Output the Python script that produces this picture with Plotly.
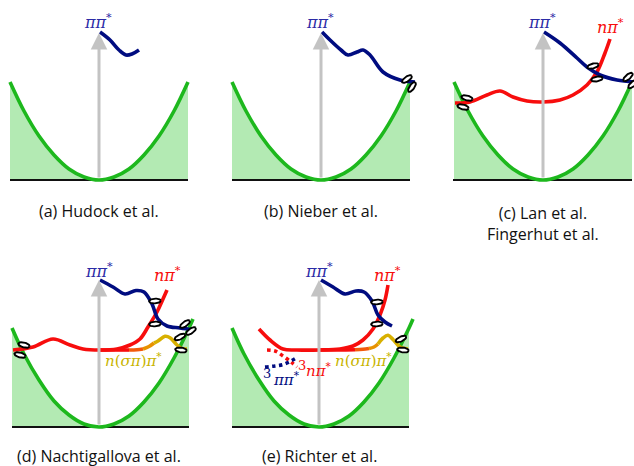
import plotly.graph_objects as go
import numpy as np

# ---------------- data (local units: dx from Franck-Condon point, E above ground minimum) -------------
# ground state curves
gs_top_dx = [-89, -75, -60, -45, -30, -15, 0, 15, 30, 45, 60, 75, 89]
gs_top_E = [98, 69, 44, 25, 11, 3, 0, 3, 11, 25, 44, 69, 98]
gs_bot_dx = [-87, -75, -60, -45, -30, -15, 0, 15, 30, 45, 60, 75, 90, 94]
gs_bot_E = [99, 73, 47, 26, 12, 3, 0, 3, 11, 25, 44, 69, 99, 108]

# pi-pi* curves
pp_a_dx = [1, 11, 20, 27, 33, 40]
pp_a_E = [148, 140, 130, 125, 126, 130]
pp_b_dx = [1, 9, 20, 27, 36, 42, 49, 62, 79, 94]
pp_b_E = [148, 140, 130, 125, 128, 130, 125, 108, 100, 98]
pp_c_dx = [1, 17, 34, 44, 57, 74, 92]
pp_c_E = [148, 137, 122, 113, 105, 100, 98]
pp_d_dx = [1, 14, 26, 37, 45, 53, 59, 68, 81, 96]
pp_d_E = [147, 140, 133, 136.5, 135, 123, 108, 101, 99, 97]
pp_e_dx = [2, 14, 26, 37, 45, 53, 59, 66, 73]
pp_e_E = [147, 140, 133, 136, 135, 126, 112, 105, 101]

# n-pi* curves
np_c_dx = [-88, -73, -56, -43, -30, -16, 0, 17, 30, 44, 54, 62, 67]
np_c_E = [77, 78, 85, 89, 83, 79, 78, 80, 85, 95, 108, 127, 141]
np_d_dx = [-86, -66, -46, -29, -16, 1, 18, 31, 41, 49, 58, 64, 68]
np_d_E = [77, 80, 88, 82, 78, 77, 78, 82, 88, 100, 115, 128, 137]
np_e_dx = [-60, -49, -36, -22, 1, 21, 34, 44, 54, 61, 66, 69]
np_e_E = [98, 87, 78, 77, 77, 78, 81, 87, 98, 112, 127, 142]

# n(sigma pi) pi* curves, split in colour stages (red -> orange -> gold)
ns_d_dx = [[1, 15, 30], [30, 38, 44], [44, 50, 55], [55, 59, 66, 71, 78, 83, 88]]
ns_d_E = [[77, 77, 77], [77, 77.3, 78], [78, 80.5, 84], [84, 86, 90.7, 89.3, 82, 78.3, 78.3]]
ns_e_dx = [[1, 20, 36], [36, 44, 50], [50, 55, 59], [59, 64, 69, 74, 81, 89]]
ns_e_E = [[77, 77, 77.3], [77.3, 77.7, 78.5], [78.5, 80, 83], [83, 89, 91.7, 87.5, 80, 78]]

# triplet (dotted) curves in panel e
t_np_dx = [-52, -44, -36, -28, -22]
t_np_E = [77, 76, 71, 65, 60]
t_pp_dx = [-54, -44, -36, -28, -21]
t_pp_E = [60, 61, 62.5, 66, 70]

# conical intersections: dx, E, tilt (deg)
ci_b = [(86, 101, 35), (91, 93, 55)]
ci_c = [(-76, 82, -15), (-80, 73, -15), (50, 114, 15), (54, 101, 10), (85, 103, 40), (90, 96, 40)]
ci_d = [(-75, 82, -15), (-79, 72, -15), (56, 126, 3), (56, 103, 3), (86, 103, 35), (92, 96, 35), (81, 90, 25), (82, 77, -8)]
ci_e = [(58, 125, 3), (58, 103, 3), (82, 88, 25), (84, 77, -8)]

# captions
captions = ["(a) Hudock et al.", "(b) Nieber et al.", "(c) Lan et al.<br>Fingerhut et al.",
            "(d) Nachtigallova et al.", "(e) Richter et al."]

# ---------------- layout / style -------------
ANCH = {'a': (99, 180), 'b': (321, 180), 'c': (543, 180), 'd': (99, 427), 'e': (319, 427)}
FILL_EXT = {'a': (-89, 89), 'b': (-89, 89), 'c': (-90, 89), 'd': (-87, 90), 'e': (-87, 90)}
GREEN = '#1db81d'
FILLG = '#b3eab3'
NAVY = '#000c80'
RED = '#f70d0d'
GOLD = '#d8b000'
STAGE_COLS = [RED, '#f25a0c', '#e89200', GOLD]
LW = 3.6

fig = go.Figure()


def P(pn, dx, E):
    cx, by = ANCH[pn]
    return [cx + d for d in dx], [by - e for e in E]


def line(pn, dx, E, color, width=LW, dash=None):
    x, y = P(pn, dx, E)
    fig.add_trace(go.Scatter(x=x, y=y, mode='lines', hoverinfo='skip', showlegend=False,
                             line=dict(color=color, width=width, shape='spline', smoothing=1.0, dash=dash)))


def ground(pn, dx, E):
    lo, hi = FILL_EXT[pn]
    cx, by = ANCH[pn]
    fx = [d for d in dx if lo <= d <= hi]
    fE = [e for d, e in zip(dx, E) if lo <= d <= hi]
    x, y = P(pn, fx, fE)
    fig.add_trace(go.Scatter(x=[x[0]] + x + [x[-1], x[0]], y=[by] + y + [by, by], mode='lines',
                             fill='toself', fillcolor=FILLG, line=dict(width=0), hoverinfo='skip',
                             showlegend=False))
    fig.add_trace(go.Scatter(x=[cx + lo, cx + hi], y=[by, by], mode='lines', hoverinfo='skip',
                             showlegend=False, line=dict(color='#111111', width=2)))
    line(pn, dx, E, GREEN)
    # arrow
    fig.add_annotation(x=cx, y=by - 147, ax=cx, ay=by - 1, xref='x', yref='y', axref='x', ayref='y',
                       showarrow=True, arrowhead=2, arrowsize=1.1, arrowwidth=3, arrowcolor='#c3c3c3',
                       text='')


def ci(pn, lst):
    cx, by = ANCH[pn]
    t = np.linspace(0, 2 * np.pi, 40)
    for dx, E, ang in lst:
        th = np.radians(ang)
        a, b = 5.8, 2.4
        xs = cx + dx + a * np.cos(t) * np.cos(th) - b * np.sin(t) * np.sin(th)
        ys = by - E - (a * np.cos(t) * np.sin(th) + b * np.sin(t) * np.cos(th))
        fig.add_trace(go.Scatter(x=xs, y=ys, mode='lines', fill='toself', fillcolor='white',
                                 line=dict(color='black', width=1.9), hoverinfo='skip', showlegend=False))


def label(pn, dx, E, text, color, size=16):
    cx, by = ANCH[pn]
    fig.add_annotation(x=cx + dx, y=by - E, text=text, showarrow=False, xref='x', yref='y',
                       font=dict(family='DejaVu Serif', size=size, color=color))


PP = '<i>ππ</i><sup>*</sup>'
NP = '<i>nπ</i><sup>*</sup>'
NS = '<i>n</i>(<i>σπ</i>)<i>π</i><sup>*</sup>'

# panels
for pn in 'abc':
    ground(pn, gs_top_dx, gs_top_E)
for pn in 'de':
    ground(pn, gs_bot_dx, gs_bot_E)

# dotted triplets (under)
line('e', t_np_dx, t_np_E, RED, width=3.5, dash='dot')
line('e', t_pp_dx, t_pp_E, NAVY, width=3.5, dash='dot')

# n(sigma pi) pi*
for seg_dx, seg_E, col in zip(ns_d_dx, ns_d_E, STAGE_COLS):
    line('d', seg_dx, seg_E, col)
for seg_dx, seg_E, col in zip(ns_e_dx, ns_e_E, STAGE_COLS):
    line('e', seg_dx, seg_E, col)

# n pi*
line('c', np_c_dx, np_c_E, RED)
line('d', np_d_dx, np_d_E, RED)
line('e', np_e_dx, np_e_E, RED)

# pi pi*
line('a', pp_a_dx, pp_a_E, NAVY)
line('b', pp_b_dx, pp_b_E, NAVY)
line('c', pp_c_dx, pp_c_E, NAVY)
line('d', pp_d_dx, pp_d_E, NAVY)
line('e', pp_e_dx, pp_e_E, NAVY)

ci('b', ci_b)
ci('c', ci_c)
ci('d', ci_d)
ci('e', ci_e)

LBLUE = '#2b2ba6'
for pn in 'abc':
    label(pn, -1, 159, PP, LBLUE)
for pn in 'de':
    label(pn, 0, 157, PP, LBLUE)
label('c', 67, 154, NP, RED)
label('d', 68, 153, NP, RED)
label('e', 68, 153, NP, RED)
label('d', 34, 67, NS, '#c8b400', size=15)
label('e', 44, 67, NS, '#c8b400', size=15)
# triplet labels (superscript 3 drawn separately)
label('e', -17, 62, '3', RED, size=13)
label('e', 0, 57, NP, RED, size=15)
label('e', -52, 54, '3', NAVY, size=13)
label('e', -33, 48, PP, NAVY, size=15)

cap_pos = [(99, 211), (321, 211), (543, 223), (99, 456), (319, 456)]
for (x, y), txt in zip(cap_pos, captions):
    fig.add_annotation(x=x, y=y, text=txt, showarrow=False, xref='x', yref='y',
                       font=dict(family='Open Sans', size=16, color='#111111'))

fig.update_layout(width=634, height=466, margin=dict(l=0, r=0, t=0, b=0),
                  paper_bgcolor='white', plot_bgcolor='white',
                  xaxis=dict(range=[0, 634], visible=False, fixedrange=True),
                  yaxis=dict(range=[466, 0], visible=False, fixedrange=True))
fig.write_html('out.html')
